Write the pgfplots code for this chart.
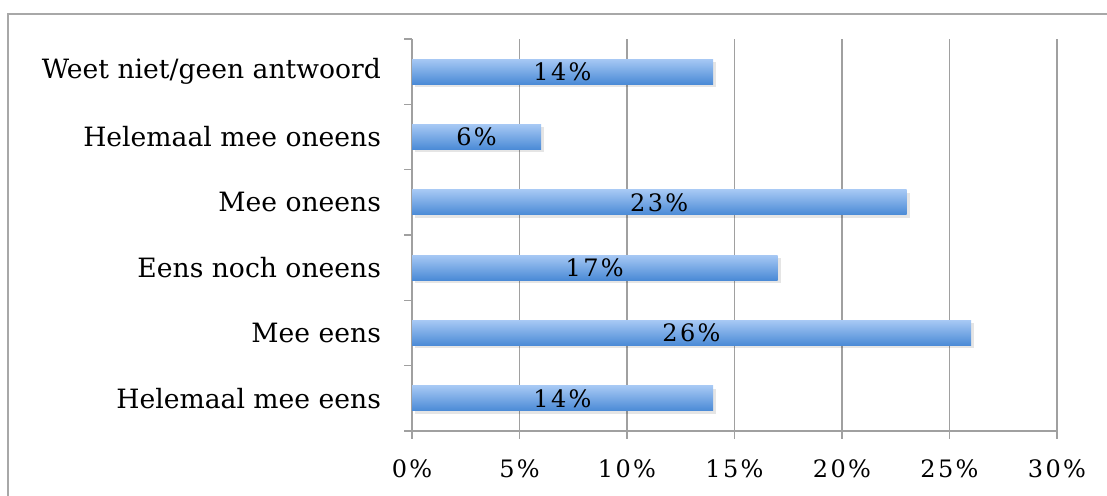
\documentclass[border=0pt]{standalone}
\usepackage{fontspec}
\setmainfont{DejaVu Serif}
\newfontfamily\tickfont[LetterSpace=10]{DejaVu Serif}
\usepackage{pgfplots}
\pgfplotsset{compat=1.18}
\definecolor{framegray}{HTML}{A8A8A8}
\definecolor{gridgray}{HTML}{A0A0A0}
\definecolor{bartop}{HTML}{A6C8F4}
\definecolor{barbot}{HTML}{4A8AD6}
\pgfplotsset{
  shadowbar/.style={draw=none, fill=black, fill opacity=0.10, bar shift=-1.5pt, xshift=1.5pt, forget plot},
  mainbar/.style={draw=none, top color=bartop, bottom color=barbot, bar shift=0pt,
    nodes near coords={\tickfont\pgfmathprintnumber{\pgfplotspointmeta}\%},
    point meta=x,
    visualization depends on=rawx \as \rawx,
    every node near coord/.append style={anchor=center, xshift={-5.375pt*\rawx}, font=\fontsize{12}{14}\selectfont, black}},
}
\begin{document}
\begin{tikzpicture}
\useasboundingbox (0pt,0pt) rectangle (553.5pt,248pt);
\begin{scope}
\clip (0pt,0pt) rectangle (553.5pt,248pt);
\draw[framegray, line width=1pt] (4pt,-10pt) rectangle (570pt,241pt);
\end{scope}
\begin{axis}[
  at={(206pt,32.5pt)}, anchor=south west,
  scale only axis, width=322.5pt, height=196pt,
  xmin=0, xmax=30, ymin=-0.5, ymax=5.5,
  /pgf/number format/assume math mode=true,
  xtick={0,5,...,30},
  xticklabel={\tickfont\pgfmathprintnumber{\tick}\%},
  xticklabel style={yshift=-7pt},
  ytick={-0.5,0.5,1.5,2.5,3.5,4.5,5.5},
  yticklabels={},
  y tick style={draw=gridgray, line width=0.75pt},
  extra y ticks={0,1,2,3,4,5},
  extra y tick labels={Helemaal mee eens,Mee eens,Eens noch oneens,Mee oneens,Helemaal mee oneens,Weet niet/geen antwoord},
  extra y tick style={major tick length=0pt, grid=none, yticklabel style={font=\fontsize{13.3}{15}\selectfont, xshift=-12pt}},
  tick align=outside,
  major tick length=4pt,
  x tick style={draw=gridgray, line width=0.75pt},
  xmajorgrids,
  grid style={gridgray, line width=0.75pt},
  axis x line*=bottom,
  axis y line*=left,
  axis line style={gridgray, line width=0.75pt},
  xbar, bar width=12.5pt,
  tick label style={font=\fontsize{12}{14}\selectfont, black},
]
\addplot[shadowbar] coordinates {(14,0)};
\addplot[shadowbar] coordinates {(26,1)};
\addplot[shadowbar] coordinates {(17,2)};
\addplot[shadowbar] coordinates {(23,3)};
\addplot[shadowbar] coordinates {(6,4)};
\addplot[shadowbar] coordinates {(14,5)};
\addplot[mainbar] coordinates {(14,0)};
\addplot[mainbar] coordinates {(26,1)};
\addplot[mainbar] coordinates {(17,2)};
\addplot[mainbar] coordinates {(23,3)};
\addplot[mainbar] coordinates {(6,4)};
\addplot[mainbar] coordinates {(14,5)};
\end{axis}
\end{tikzpicture}
\end{document}
